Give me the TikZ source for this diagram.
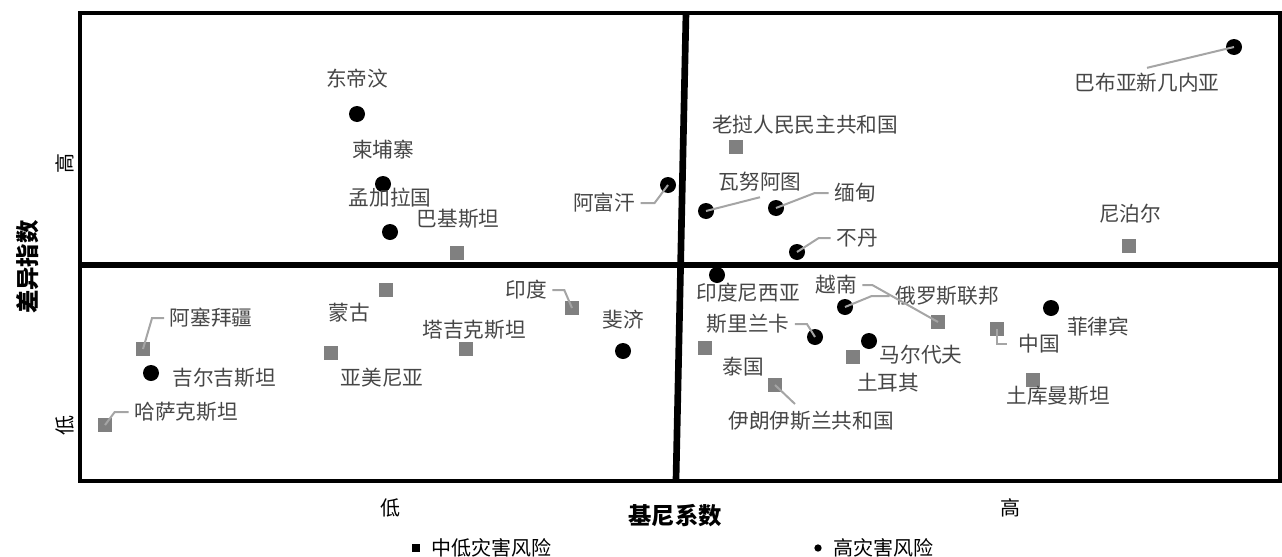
\documentclass[tikz,border=0pt]{standalone}
\usepackage{fontspec}
\setmainfont{Noto Sans CJK SC}
\usetikzlibrary{positioning}
\definecolor{lblgray}{RGB}{70,70,70}
\definecolor{sqgray}{RGB}{128,128,128}
\definecolor{leadgray}{RGB}{165,165,165}
\tikzset{
    lowrisk/.style={rectangle, fill=sqgray, minimum size=10.5pt, inner sep=0pt},
    highrisk/.style={circle, fill=black, minimum size=12pt, inner sep=0pt},
    lbl/.style={text=lblgray, font=\fontsize{15.5}{18}\selectfont, inner sep=4pt},
    leader/.style={draw=leadgray, line width=1.5pt},
    axislbl/.style={font=\fontsize{15}{18}\selectfont},
    axistitle/.style={font=\fontsize{17.5}{20}\selectfont\bfseries}
}
\begin{document}
\begin{tikzpicture}[x=0.75pt, y=-0.75pt]
    \useasboundingbox (0, 0) rectangle (1282, 557);

    % frame and quadrants
    \draw[line width=2.5pt] (80, 13) rectangle (1280, 481);
    \draw[line width=5pt] (80, 265) -- (1282, 265);
    \draw[line width=5pt] (686, 13) -- (676, 480);

    % medium and low risk
    \foreach \n/\x/\y in {pak/457/253, lao/736/147, npl/1129/246,
        aze/143/349, kaz/105/425, mng/386/290, arm/331/353, tjk/466/349,
        ind/572/308, vnm/938/322, tha/705/348, tur/853/357, irn/775/385,
        chn/997/329, tkm/1033/380}
    \node[lowrisk] (\n) at (\x, \y) {};

    % high risk
    \foreach \n/\x/\y in {tls/357/114, khm/383/184, bgd/390/232,
        afg/668/185, vut/706/211, mmr/776/208, btn/797/252, png/1234/47,
        kgz/151/373, fji/623/351, idn/717/275, rus/845/307, lka/815/337,
        mdv/869/341, phl/1051/308}
    \node[highrisk] (\n) at (\x, \y) {};

    % country names
    \foreach \n/\x/\y/\t in {tls/357/79/东帝汶, khm/383/150/柬埔寨,
        bgd/390/198/孟加拉国, pak/458/219/巴基斯坦, afg/604/203/阿富汗,
        lao/805/125/老挝人民民主共和国, vut/760/182/瓦努阿图,
        mmr/855/193/缅甸, btn/857/238/不丹, png/1147/83/巴布亚新几内亚,
        npl/1130/214/尼泊尔, aze/211/318/阿塞拜疆, kgz/224/378/吉尔吉斯坦,
        kaz/186/412/哈萨克斯坦, mng/349/313/蒙古, arm/382/378/亚美尼亚,
        tjk/474/330/塔吉克斯坦, ind/526/290/印度, fji/623/320/斐济,
        idn/748/293/印度尼西亚, vnm/836/285/越南, rus/947/296/俄罗斯联邦,
        lka/748/324/斯里兰卡, tha/743/367/泰国, mdv/921/355/马尔代夫,
        tur/888/383/土耳其, irn/811/421/伊朗伊斯兰共和国,
        chn/1039/344/中国, phl/1098/327/菲律宾, tkm/1058/396/土库曼斯坦}
    \node[lbl] (l\n) at (\x, \y) {\t};

    % leader lines
    \coordinate (irnend) at (795, 404);
    \draw[leader] (lafg.east) -- ++(14, 0) -- (afg.center);
    \draw[leader] (lvut.south) -- (vut.center);
    \draw[leader] (lmmr.west) -- ++(-14, 0) -- (mmr.center);
    \draw[leader] (lbtn.west) -- ++(-12, 0) -- (btn.center);
    \draw[leader] (lpng.north) -- (png.center);
    \draw[leader] (laze.west) -- ++(-12, 0) -- (aze.center);
    \draw[leader] (lkaz.west) -- ++(-14, 0) -- (kaz.center);
    \draw[leader] (lind.east) -- ++(12, 0) -- (ind.center);
    \draw[leader] (lrus.west) -- ++(-18, 0) -- (rus.center);
    \draw[leader] (lvnm.east) -- ++(10, 0) -- (vnm.center);
    \draw[leader] (llka.east) -- ++(12, 0) -- (lka.center);
    \draw[leader] (irn.center) -- (irnend);
    \draw[leader, shorten >=4.5pt] (chn.center) |- (lchn.west);

    % axes
    \node[axislbl] (xlow) at (390, 508) {低};
    \node[axislbl] (xhigh) at (1010, 508) {高};
    \node[axistitle] (xtitle) at (675, 516) {基尼系数};
    \node[axislbl, rotate=90] (yhigh) at (65, 163) {高};
    \node[axislbl, rotate=90] (ylow) at (65, 425) {低};
    \node[axistitle, rotate=90] (ytitle) at (28, 267) {差异指数};

    % legend
    \node[fill=black, minimum size=6pt, inner sep=0pt] (keylow) at (416, 548) {};
    \node[axislbl, right=5pt of keylow] (keylowtext) {中低灾害风险};
    \node[circle, fill=black, minimum size=5.5pt, inner sep=0pt] (keyhigh) at (818, 548) {};
    \node[axislbl, right=5pt of keyhigh] (keyhightext) {高灾害风险};
\end{tikzpicture}
\end{document}
